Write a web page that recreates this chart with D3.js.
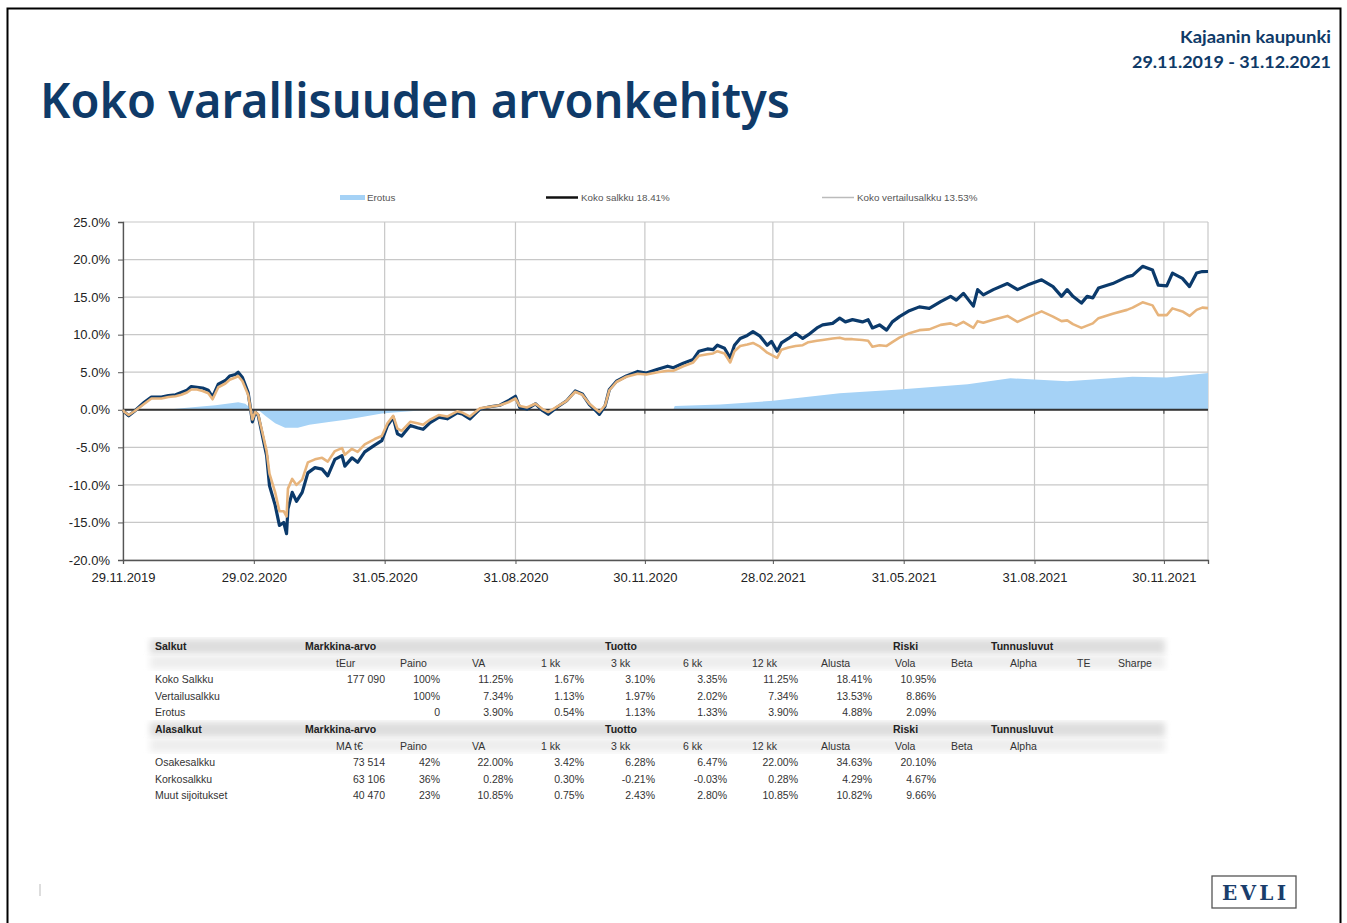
<!DOCTYPE html>
<html>
<head>
<meta charset="utf-8">
<script src="https://cdn.jsdelivr.net/npm/d3@7"></script>
<style>
body{margin:0;background:#fff}
svg{display:block}
</style>
</head>
<body>
<svg id="chart" width="1347" height="923"></svg>
<script>

// chart data
var dates = ['2019-11-29','2019-11-30','2019-12-03','2019-12-07','2019-12-14','2019-12-19','2019-12-26','2019-12-31',
 '2020-01-05','2020-01-09','2020-01-13','2020-01-16','2020-01-20','2020-01-24','2020-01-28','2020-01-31',
 '2020-02-04','2020-02-09','2020-02-12','2020-02-16','2020-02-18','2020-02-21','2020-02-25','2020-02-28',
 '2020-03-01','2020-03-03','2020-03-06','2020-03-09','2020-03-11','2020-03-15','2020-03-18','2020-03-21','2020-03-23','2020-03-24','2020-03-27','2020-03-30',
 '2020-04-03','2020-04-07','2020-04-12','2020-04-17','2020-04-21','2020-04-26',
 '2020-05-01','2020-05-03','2020-05-08','2020-05-12','2020-05-17','2020-05-24','2020-05-29',
 '2020-06-02','2020-06-06','2020-06-09','2020-06-12','2020-06-18','2020-06-23','2020-06-27',
 '2020-07-02','2020-07-08','2020-07-14','2020-07-21','2020-07-25','2020-07-30',
 '2020-08-06','2020-08-13','2020-08-20','2020-08-26','2020-08-31',
 '2020-09-03','2020-09-08','2020-09-14','2020-09-19','2020-09-23','2020-09-29',
 '2020-10-06','2020-10-12','2020-10-17','2020-10-22','2020-10-27','2020-10-29',
 '2020-11-02','2020-11-05','2020-11-10','2020-11-17','2020-11-25',
 '2020-12-01','2020-12-09','2020-12-16','2020-12-20','2020-12-27',
 '2021-01-03','2021-01-07','2021-01-13','2021-01-17','2021-01-20','2021-01-25','2021-01-29',
 '2021-02-01','2021-02-05','2021-02-10','2021-02-14','2021-02-19','2021-02-24','2021-02-27',
 '2021-03-03','2021-03-06','2021-03-11','2021-03-16','2021-03-21','2021-03-25','2021-03-31',
 '2021-04-04','2021-04-11','2021-04-16','2021-04-20','2021-04-25',
 '2021-05-02','2021-05-06','2021-05-09','2021-05-14','2021-05-19','2021-05-23','2021-05-28',
 '2021-06-04','2021-06-11','2021-06-18','2021-06-26',
 '2021-07-03','2021-07-07','2021-07-12','2021-07-19','2021-07-22','2021-07-26',
 '2021-08-02','2021-08-12','2021-08-19','2021-08-26',
 '2021-09-05','2021-09-13','2021-09-19','2021-09-23','2021-09-27',
 '2021-10-03','2021-10-07','2021-10-11','2021-10-15','2021-10-25',
 '2021-11-04','2021-11-08','2021-11-15','2021-11-22','2021-11-26',
 '2021-12-02','2021-12-06','2021-12-13','2021-12-18','2021-12-23','2021-12-27','2021-12-31'];

var kokoSalkku = [0,-0.3,-0.8,-0.2,1.0,1.7,1.7,1.9,
 2.0,2.3,2.6,3.1,3.0,2.9,2.6,1.7,
 3.4,3.9,4.5,4.7,5.0,4.3,2.3,-1.6,
 -0.3,-0.7,-3.4,-6.1,-10.1,-12.7,-15.4,-15.0,-16.5,-13.2,-11.0,-12.2,
 -11.0,-8.4,-7.7,-7.9,-8.8,-6.6,
 -6.1,-7.5,-6.4,-7.0,-5.6,-4.7,-4.1,
 -2.1,-1.0,-3.2,-3.5,-2.1,-2.4,-2.6,
 -1.7,-1.0,-1.2,-0.4,-0.6,-1.2,
 0.1,0.4,0.6,1.2,1.8,
 0.3,0.1,0.8,-0.1,-0.6,0.3,
 1.2,2.5,2.1,0.7,-0.2,-0.6,
 0.5,2.7,3.8,4.5,5.1,
 4.9,5.4,5.8,5.6,6.2,
 6.7,7.8,8.1,8.0,8.6,8.2,6.9,
 8.6,9.5,9.9,10.4,9.8,8.6,9.1,
 7.8,8.9,9.5,10.2,9.5,10.0,10.9,
 11.3,11.5,12.2,11.7,12.0,
 11.7,12.0,10.9,11.3,10.6,11.7,12.4,
 13.2,13.7,13.5,14.4,
 15.1,14.6,15.5,13.8,16.0,15.3,
 16.0,16.8,16.0,16.6,
 17.3,16.4,15.1,16.0,15.1,
 14.2,15.1,14.9,16.2,16.8,
 17.7,17.9,19.1,18.6,16.6,
 16.5,18.2,17.5,16.4,18.2,18.4,18.41];

var vertailusalkku = [0,-0.3,-0.7,-0.2,0.8,1.5,1.5,1.7,
 1.8,2.0,2.3,2.7,2.7,2.5,2.2,1.4,
 3.0,3.5,4.0,4.3,4.5,3.8,2.0,-1.3,
 -0.3,-0.6,-3.0,-5.5,-8.5,-11.0,-13.5,-13.5,-14.2,-10.5,-9.2,-10.0,
 -9.3,-7.0,-6.6,-6.4,-6.9,-5.5,
 -5.1,-6.0,-5.2,-5.6,-4.6,-3.9,-3.5,
 -1.8,-0.8,-2.5,-2.8,-1.6,-1.8,-2.0,
 -1.3,-0.7,-0.9,-0.2,-0.4,-0.9,
 0.2,0.4,0.6,1.0,1.5,
 0.5,0.3,0.8,0.1,-0.3,0.4,
 1.2,2.4,2.0,0.8,0.0,-0.3,
 0.6,2.6,3.7,4.4,4.8,
 4.7,5.0,5.2,5.2,5.8,
 6.3,7.2,7.4,7.5,7.8,7.5,6.3,
 7.8,8.5,8.7,8.9,8.4,7.6,7.3,
 6.9,8.0,8.3,8.5,8.6,9.0,9.2,
 9.3,9.5,9.6,9.4,9.4,
 9.3,9.2,8.4,8.6,8.5,9.0,9.6,
 10.2,10.6,10.7,11.3,
 11.5,11.2,11.7,10.9,11.8,11.6,
 12.0,12.5,11.7,12.3,
 13.1,12.4,11.8,11.9,11.4,
 10.9,11.2,11.5,12.2,12.8,
 13.3,13.6,14.3,13.9,12.6,
 12.6,13.5,13.1,12.5,13.3,13.6,13.53];

var erotusDates = ['2019-11-29','2019-12-29','2020-01-15','2020-02-02','2020-02-18','2020-02-23','2020-02-28','2020-03-03',
 '2020-03-08','2020-03-15','2020-03-22','2020-03-31','2020-04-08','2020-04-23','2020-05-05','2020-05-17','2020-05-29',
 '2020-06-11','2020-06-25','2020-07-05','2020-12-20','2020-12-21','2021-01-22','2021-02-28','2021-04-16','2021-05-28',
 '2021-07-15','2021-08-14','2021-09-23','2021-10-16','2021-11-08','2021-12-02','2021-12-31'];
var erotus = [0,0,0.3,0.6,1.0,0.8,0,0,
 -0.8,-1.8,-2.4,-2.4,-2.0,-1.6,-1.3,-0.9,-0.5,
 -0.3,-0.1,0,0,0.5,0.7,1.2,2.2,2.7,
 3.4,4.2,3.8,4.1,4.4,4.3,4.88];

var xTicks = ['2019-11-29','2020-02-29','2020-05-31','2020-08-31','2020-11-30','2021-02-28','2021-05-31','2021-08-31','2021-11-30'];
var yTicks = [-20,-15,-10,-5,0,5,10,15,20,25];

var legendNames = ['Erotus','Koko salkku 18.41%','Koko vertailusalkku 13.53%'];

// table
var salkutHead = ['Salkut','Markkina-arvo','Tuotto','Riski','Tunnusluvut'];
var salkutSub = ['tEur','Paino','VA','1 kk','3 kk','6 kk','12 kk','Alusta','Vola','Beta','Alpha','TE','Sharpe'];
var salkutRows = ['Koko Salkku','Vertailusalkku','Erotus'];
var salkutVals = [
 ['177 090','100%','11.25%','1.67%','3.10%','3.35%','11.25%','18.41%','10.95%'],
 ['','100%','7.34%','1.13%','1.97%','2.02%','7.34%','13.53%','8.86%'],
 ['','0','3.90%','0.54%','1.13%','1.33%','3.90%','4.88%','2.09%']];
var alaHead = ['Alasalkut','Markkina-arvo','Tuotto','Riski','Tunnusluvut'];
var alaSub = ['MA t€','Paino','VA','1 kk','3 kk','6 kk','12 kk','Alusta','Vola','Beta','Alpha'];
var alaRows = ['Osakesalkku','Korkosalkku','Muut sijoitukset'];
var alaVals = [
 ['73 514','42%','22.00%','3.42%','6.28%','6.47%','22.00%','34.63%','20.10%'],
 ['63 106','36%','0.28%','0.30%','-0.21%','-0.03%','0.28%','4.29%','4.67%'],
 ['40 470','23%','10.85%','0.75%','2.43%','2.80%','10.85%','10.82%','9.66%']];

var navy = '#0f3a68';
var svg = d3.select('#chart');
var parse = d3.timeParse('%Y-%m-%d');
var fmt = d3.timeFormat('%d.%m.%Y');

// page frame
svg.append('rect').attr('x',7.5).attr('y',8.5).attr('width',1333).attr('height',940)
  .attr('fill','none').attr('stroke','#000').attr('stroke-width',2);

svg.append('text').attr('x',40).attr('y',118).text('Koko varallisuuden arvonkehitys')
  .attr('font-family','Noto Sans').attr('font-weight',600).attr('font-size',48)
  .attr('textLength',750).attr('lengthAdjust','spacingAndGlyphs').attr('fill',navy);

svg.append('text').attr('x',1331).attr('y',43).attr('text-anchor','end').text('Kajaanin kaupunki')
  .attr('font-family','Lato').attr('font-weight',700).attr('font-size',17)
  .attr('textLength',151).attr('lengthAdjust','spacingAndGlyphs').attr('fill',navy);
svg.append('text').attr('x',1331).attr('y',68).attr('text-anchor','end').text('29.11.2019 - 31.12.2021')
  .attr('font-family','Lato').attr('font-weight',700).attr('font-size',17)
  .attr('textLength',199).attr('lengthAdjust','spacingAndGlyphs').attr('fill',navy);

// scales
var x = d3.scaleTime().domain([parse('2019-11-29'), parse('2021-12-31')]).range([123,1208]);
var y = d3.scaleLinear().domain([-20,25]).range([560,222]);

var g = svg.append('g');

// grid
g.selectAll('.hg').data(yTicks).enter().append('line')
  .attr('x1',123).attr('x2',1208).attr('y1',d=>y(d)).attr('y2',d=>y(d))
  .attr('stroke','#c8c8c8').attr('stroke-width',1.2);
g.selectAll('.vg').data(xTicks.concat(['2021-12-31'])).enter().append('line')
  .attr('x1',d=>x(parse(d))).attr('x2',d=>x(parse(d))).attr('y1',222).attr('y2',560)
  .attr('stroke','#c8c8c8').attr('stroke-width',1.2);

// erotus area
var erData = erotusDates.map((d,i)=>({date:parse(d),v:erotus[i]}));
g.append('path').datum(erData)
  .attr('d',d3.area().x(d=>x(d.date)).y0(y(0)).y1(d=>y(d.v)))
  .attr('fill','#a5d2f6');

// axes
var yAxis = g.append('g').attr('transform','translate(123,0)')
  .call(d3.axisLeft(y).tickValues(yTicks).tickFormat(d=>d.toFixed(1)+'%').tickSize(5).tickPadding(8));
var xAxis = g.append('g').attr('transform','translate(0,560)')
  .call(d3.axisBottom(x).tickValues(xTicks.map(parse)).tickFormat(fmt).tickSize(4).tickPadding(9));
[yAxis,xAxis].forEach(a=>{
  a.selectAll('text').attr('font-family','Liberation Sans, Arial').attr('font-size',13).attr('fill','#222');
  a.selectAll('line').attr('stroke','#555');
  a.select('.domain').attr('stroke','#555').attr('stroke-width',1.3);
});

// zero line with ticks
g.append('line').attr('x1',123).attr('x2',1208).attr('y1',y(0)).attr('y2',y(0))
  .attr('stroke','#333').attr('stroke-width',2);
g.selectAll('.zt').data(xTicks.slice(1)).enter().append('line')
  .attr('x1',d=>x(parse(d))).attr('x2',d=>x(parse(d))).attr('y1',y(0)).attr('y2',y(0)+4)
  .attr('stroke','#333').attr('stroke-width',1);

// lines
var line = d3.line().x(d=>x(d.date)).y(d=>y(d.v));
var kokoData = dates.map((d,i)=>({date:parse(d),v:kokoSalkku[i]}));
var vertData = dates.map((d,i)=>({date:parse(d),v:vertailusalkku[i]}));
g.append('path').datum(kokoData).attr('d',line).attr('fill','none')
  .attr('stroke','#0b3a6b').attr('stroke-width',3.2).attr('stroke-linejoin','round');
g.append('path').datum(vertData).attr('d',line).attr('fill','none')
  .attr('stroke','#e7b47c').attr('stroke-width',2.6).attr('stroke-linejoin','round');

// legend
var lg = svg.append('g').attr('font-family','Liberation Sans, Arial').attr('font-size',9.8).attr('fill','#555');
lg.append('rect').attr('x',340).attr('y',195).attr('width',25).attr('height',5).attr('fill','#a5d2f6');
lg.append('line').attr('x1',546).attr('x2',578).attr('y1',197.5).attr('y2',197.5).attr('stroke','#111').attr('stroke-width',2.5);
lg.append('line').attr('x1',822).attr('x2',854).attr('y1',197.5).attr('y2',197.5).attr('stroke','#bbb').attr('stroke-width',1.5);
lg.selectAll('text').data(legendNames).enter().append('text')
  .attr('x',(d,i)=>[367,581,857][i]).attr('y',201).text(d=>d);

// table
var defs = svg.append('defs');
defs.append('filter').attr('id','blur').append('feGaussianBlur').attr('stdDeviation',3);

var headX = [155,305,605,893,991];
var subX = [336,400,472,541,611,683,752,821,895,951,1010,1077,1118];
var valRight = [385,440,513,584,655,727,798,872,936];
var rowH = 16.6;

function drawBlock(top, head, sub, rows, vals){
  svg.append('rect').attr('x',150).attr('y',top-7).attr('width',1015).attr('height',15)
    .attr('fill','#dedede').attr('filter','url(#blur)');
  svg.append('rect').attr('x',150).attr('y',top+9).attr('width',1015).attr('height',14)
    .attr('fill','#eeeeee').attr('filter','url(#blur)');
  var tg = svg.append('g').attr('font-family','Liberation Sans, Arial').attr('font-size',10.5).attr('fill','#333');
  tg.selectAll('.h').data(head).enter().append('text')
    .attr('x',(d,i)=>headX[i]).attr('y',top+4).attr('font-weight','bold').attr('fill','#222').text(d=>d);
  tg.selectAll('.s').data(sub).enter().append('text')
    .attr('x',(d,i)=>subX[i]).attr('y',top+4+rowH).text(d=>d);
  rows.forEach((r,ri)=>{
    var yy = top+4+rowH*(ri+2);
    tg.append('text').attr('x',155).attr('y',yy).text(r);
    tg.selectAll('.v'+ri).data(vals[ri]).enter().append('text')
      .attr('x',(d,i)=>valRight[i]).attr('y',yy).attr('text-anchor','end').text(d=>d);
  });
}
drawBlock(646, salkutHead, salkutSub, salkutRows, salkutVals);
drawBlock(729, alaHead, alaSub, alaRows, alaVals);

// logo
svg.append('rect').attr('x',1212).attr('y',876).attr('width',84).attr('height',32)
  .attr('fill','none').attr('stroke','#555').attr('stroke-width',1.3);
svg.append('text').attr('x',1254).attr('y',900).attr('text-anchor','middle').text('EVLI')
  .attr('font-family','DejaVu Serif').attr('font-weight','bold').attr('font-size',20)
  .attr('textLength',64).attr('lengthAdjust','spacing').attr('fill','#1a3d6b');

svg.append('line').attr('x1',40).attr('x2',40).attr('y1',884).attr('y2',896).attr('stroke','#bbb');

</script>
</body>
</html>
